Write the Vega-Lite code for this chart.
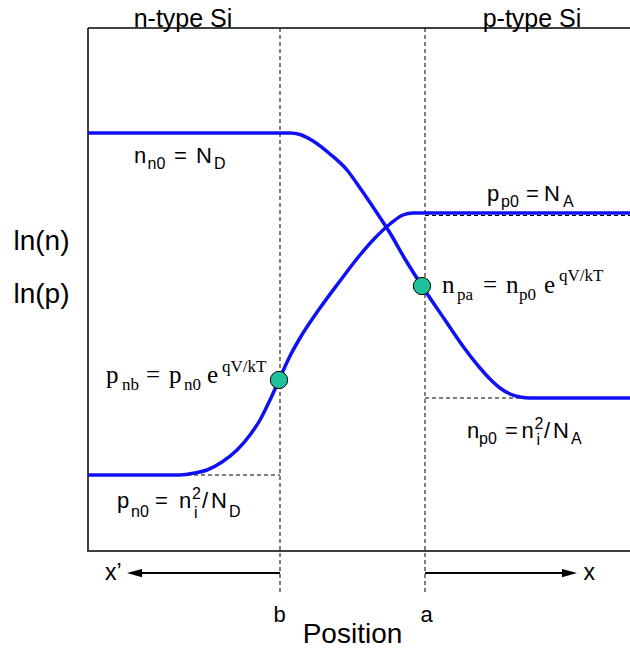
{
  "$schema": "https://vega.github.io/schema/vega-lite/v6.json",
  "width": 542,
  "height": 522,
  "padding": {"left": 88, "top": 28, "right": 0, "bottom": 100},
  "autosize": {"type": "none"},
  "background": "white",
  "config": {"view": {"stroke": null}},
  "datasets": {
    "curves": [
      {"carrier": "n", "pos": 0, "lnc": 41.7},
      {"carrier": "n", "pos": 20.2, "lnc": 41.7},
      {"carrier": "n", "pos": 21.2, "lnc": 41.55},
      {"carrier": "n", "pos": 22.5, "lnc": 40.9},
      {"carrier": "n", "pos": 24.2, "lnc": 39.6},
      {"carrier": "n", "pos": 25.9, "lnc": 38.0},
      {"carrier": "n", "pos": 27.2, "lnc": 36.2},
      {"carrier": "n", "pos": 28.7, "lnc": 34.0},
      {"carrier": "n", "pos": 30.2, "lnc": 31.7},
      {"carrier": "n", "pos": 31.7, "lnc": 29.1},
      {"carrier": "n", "pos": 33.4, "lnc": 26.4},
      {"carrier": "n", "pos": 35.7, "lnc": 23.0},
      {"carrier": "n", "pos": 37.7, "lnc": 20.1},
      {"carrier": "n", "pos": 39.2, "lnc": 18.2},
      {"carrier": "n", "pos": 40.2, "lnc": 17.1},
      {"carrier": "n", "pos": 41.2, "lnc": 16.2},
      {"carrier": "n", "pos": 42.2, "lnc": 15.6},
      {"carrier": "n", "pos": 43.2, "lnc": 15.3},
      {"carrier": "n", "pos": 44.2, "lnc": 15.2},
      {"carrier": "n", "pos": 54.2, "lnc": 15.2},
      {"carrier": "p", "pos": 0, "lnc": 7.5},
      {"carrier": "p", "pos": 9.2, "lnc": 7.5},
      {"carrier": "p", "pos": 10.7, "lnc": 7.7},
      {"carrier": "p", "pos": 11.9, "lnc": 8.0},
      {"carrier": "p", "pos": 13.4, "lnc": 8.8},
      {"carrier": "p", "pos": 14.9, "lnc": 10.0},
      {"carrier": "p", "pos": 16.2, "lnc": 11.5},
      {"carrier": "p", "pos": 17.2, "lnc": 13.0},
      {"carrier": "p", "pos": 18.2, "lnc": 15.0},
      {"carrier": "p", "pos": 19.1, "lnc": 17.0},
      {"carrier": "p", "pos": 20.2, "lnc": 19.4},
      {"carrier": "p", "pos": 21.2, "lnc": 21.2},
      {"carrier": "p", "pos": 23.2, "lnc": 24.2},
      {"carrier": "p", "pos": 25.2, "lnc": 26.9},
      {"carrier": "p", "pos": 27.2, "lnc": 29.5},
      {"carrier": "p", "pos": 28.7, "lnc": 31.2},
      {"carrier": "p", "pos": 30.2, "lnc": 32.6},
      {"carrier": "p", "pos": 31.5, "lnc": 33.5},
      {"carrier": "p", "pos": 32.5, "lnc": 33.7},
      {"carrier": "p", "pos": 54.2, "lnc": 33.7}
    ],
    "markers": [
      {"edge": "b", "pos": 19.1, "lnc": 17.0},
      {"edge": "a", "pos": 33.4, "lnc": 26.4}
    ],
    "segments": [
      {"kind": "frame", "x1": 0, "x2": 0, "y1": 0, "y2": 52.2},
      {"kind": "frame", "x1": 0, "x2": 54.2, "y1": 52.2, "y2": 52.2},
      {"kind": "frame", "x1": -0.1, "x2": 54.2, "y1": -0.1, "y2": -0.1},
      {"kind": "dash", "x1": 19.2, "x2": 19.2, "y1": 52.2, "y2": -4.2},
      {"kind": "dash", "x1": 33.7, "x2": 33.7, "y1": 52.2, "y2": -4.2},
      {"kind": "dash", "x1": 9.2, "x2": 19.2, "y1": 7.5, "y2": 7.5},
      {"kind": "dash", "x1": 33.7, "x2": 43.2, "y1": 15.2, "y2": 15.2},
      {"kind": "dash", "x1": 33.7, "x2": 54.2, "y1": 33.45, "y2": 33.45},
      {"kind": "arrow", "x1": 5.4, "x2": 19.2, "y1": -2.3, "y2": -2.3},
      {"kind": "arrow", "x1": 33.7, "x2": 47.4, "y1": -2.3, "y2": -2.3}
    ],
    "heads": [
      {"dir": "left", "pos": 4.65, "lnc": -2.3},
      {"dir": "right", "pos": 48.15, "lnc": -2.3}
    ],
    "labels": [
      {"role": "region", "text": "n-type Si", "pos": 9.5, "lnc": 52.3},
      {"role": "region", "text": "p-type Si", "pos": 44.4, "lnc": 52.3},
      {"role": "ylab", "text": "ln(n)", "pos": -4.65, "lnc": 30.0},
      {"role": "ylab", "text": "ln(p)", "pos": -4.65, "lnc": 24.7},
      {"role": "xlab", "text": "Position", "pos": 26.45, "lnc": -9.3},
      {"role": "edge", "text": "b", "pos": 19.15, "lnc": -7.2},
      {"role": "edge", "text": "a", "pos": 33.85, "lnc": -7.2},
      {"role": "dir", "text": "x’", "pos": 1.7, "lnc": -3.0},
      {"role": "dir", "text": "x", "pos": 49.55, "lnc": -3.0},

      {"role": "sans", "text": "n", "pos": 4.6, "lnc": 38.7},
      {"role": "sanssub", "text": "n0", "pos": 5.95, "lnc": 38.1},
      {"role": "sans", "text": "=", "pos": 8.6, "lnc": 38.7},
      {"role": "sans", "text": "N", "pos": 10.8, "lnc": 38.7},
      {"role": "sanssub", "text": "D", "pos": 12.6, "lnc": 38.1},

      {"role": "sans", "text": "p", "pos": 39.9, "lnc": 34.9},
      {"role": "sanssub", "text": "p0", "pos": 41.3, "lnc": 34.3},
      {"role": "sans", "text": "=", "pos": 43.8, "lnc": 34.9},
      {"role": "sans", "text": "N", "pos": 45.6, "lnc": 34.9},
      {"role": "sanssub", "text": "A", "pos": 47.5, "lnc": 34.3},

      {"role": "serif", "text": "n", "pos": 35.4, "lnc": 25.7},
      {"role": "serifsub", "text": "pa", "pos": 36.9, "lnc": 25.0},
      {"role": "serif", "text": "=", "pos": 39.5, "lnc": 25.7},
      {"role": "serif", "text": "n", "pos": 41.8, "lnc": 25.7},
      {"role": "serifsub", "text": "p0", "pos": 43.1, "lnc": 25.0},
      {"role": "serif", "text": "e", "pos": 45.6, "lnc": 25.7},
      {"role": "serifsup", "text": "qV/kT", "pos": 47.1, "lnc": 26.9},

      {"role": "serif", "text": "p", "pos": 1.8, "lnc": 16.7},
      {"role": "serifsub", "text": "nb", "pos": 3.4, "lnc": 16.0},
      {"role": "serif", "text": "=", "pos": 5.8, "lnc": 16.7},
      {"role": "serif", "text": "p", "pos": 8.1, "lnc": 16.7},
      {"role": "serifsub", "text": "n0", "pos": 9.6, "lnc": 16.0},
      {"role": "serif", "text": "e", "pos": 11.9, "lnc": 16.7},
      {"role": "serifsup", "text": "qV/kT", "pos": 13.4, "lnc": 17.8},

      {"role": "sans", "text": "p", "pos": 2.9, "lnc": 4.2},
      {"role": "sanssub", "text": "n0", "pos": 4.3, "lnc": 3.3},
      {"role": "sans", "text": "=", "pos": 6.7, "lnc": 4.2},
      {"role": "sans", "text": "n", "pos": 9.1, "lnc": 4.2},
      {"role": "sanssup", "text": "2", "pos": 10.4, "lnc": 5.15},
      {"role": "sanssub", "text": "i", "pos": 10.6, "lnc": 3.2},
      {"role": "sans", "text": "/", "pos": 11.4, "lnc": 4.2},
      {"role": "sans", "text": "N", "pos": 12.3, "lnc": 4.2},
      {"role": "sanssub", "text": "D", "pos": 14.1, "lnc": 3.3},

      {"role": "sans", "text": "n", "pos": 37.9, "lnc": 11.2},
      {"role": "sanssub", "text": "p0", "pos": 39.1, "lnc": 10.6},
      {"role": "sans", "text": "=", "pos": 41.7, "lnc": 11.2},
      {"role": "sans", "text": "n", "pos": 43.35, "lnc": 11.2},
      {"role": "sanssup", "text": "2", "pos": 44.65, "lnc": 12.15},
      {"role": "sanssub", "text": "i", "pos": 44.85, "lnc": 10.5},
      {"role": "sans", "text": "/", "pos": 45.6, "lnc": 11.2},
      {"role": "sans", "text": "N", "pos": 46.5, "lnc": 11.2},
      {"role": "sanssub", "text": "A", "pos": 48.3, "lnc": 10.6}
    ]
  },
  "layer": [
    {
      "data": {"name": "segments"},
      "transform": [{"filter": "datum.kind === 'frame'"}],
      "mark": {"type": "rule", "color": "black", "strokeWidth": 1.5},
      "encoding": {
        "x": {"field": "x1", "type": "quantitative", "scale": {"domain": [0, 54.2], "nice": false, "zero": false}, "axis": null},
        "x2": {"field": "x2"},
        "y": {"field": "y1", "type": "quantitative", "scale": {"domain": [0, 52.2], "nice": false, "zero": false}, "axis": null},
        "y2": {"field": "y2"}
      }
    },
    {
      "data": {"name": "segments"},
      "transform": [{"filter": "datum.kind === 'dash'"}],
      "mark": {"type": "rule", "color": "black", "strokeWidth": 1, "strokeDash": [4, 3]},
      "encoding": {
        "x": {"field": "x1", "type": "quantitative", "scale": {"domain": [0, 54.2], "nice": false, "zero": false}, "axis": null},
        "x2": {"field": "x2"},
        "y": {"field": "y1", "type": "quantitative", "scale": {"domain": [0, 52.2], "nice": false, "zero": false}, "axis": null},
        "y2": {"field": "y2"}
      }
    },
    {
      "data": {"name": "segments"},
      "transform": [{"filter": "datum.kind === 'arrow'"}],
      "mark": {"type": "rule", "color": "black", "strokeWidth": 2},
      "encoding": {
        "x": {"field": "x1", "type": "quantitative", "scale": {"domain": [0, 54.2], "nice": false, "zero": false}, "axis": null},
        "x2": {"field": "x2"},
        "y": {"field": "y1", "type": "quantitative", "scale": {"domain": [0, 52.2], "nice": false, "zero": false}, "axis": null},
        "y2": {"field": "y2"}
      }
    },
    {
      "data": {"name": "heads"},
      "transform": [{"filter": "datum.dir === 'left'"}],
      "mark": {"type": "point", "filled": true, "opacity": 1, "color": "black", "size": 225, "shape": "M -1 0 L 1 -0.55 L 1 0.55 Z"},
      "encoding": {
        "x": {"field": "pos", "type": "quantitative", "scale": {"domain": [0, 54.2], "nice": false, "zero": false}, "axis": null},
        "y": {"field": "lnc", "type": "quantitative", "scale": {"domain": [0, 52.2], "nice": false, "zero": false}, "axis": null}
      }
    },
    {
      "data": {"name": "heads"},
      "transform": [{"filter": "datum.dir === 'right'"}],
      "mark": {"type": "point", "filled": true, "opacity": 1, "color": "black", "size": 225, "shape": "M 1 0 L -1 -0.55 L -1 0.55 Z"},
      "encoding": {
        "x": {"field": "pos", "type": "quantitative", "scale": {"domain": [0, 54.2], "nice": false, "zero": false}, "axis": null},
        "y": {"field": "lnc", "type": "quantitative", "scale": {"domain": [0, 52.2], "nice": false, "zero": false}, "axis": null}
      }
    },
    {
      "data": {"name": "curves"},
      "mark": {"type": "line", "interpolate": "monotone", "color": "#1010f5", "strokeWidth": 3.5},
      "encoding": {
        "x": {"field": "pos", "type": "quantitative", "scale": {"domain": [0, 54.2], "nice": false, "zero": false}, "axis": null},
        "y": {"field": "lnc", "type": "quantitative", "scale": {"domain": [0, 52.2], "nice": false, "zero": false}, "axis": null},
        "detail": {"field": "carrier"}
      }
    },
    {
      "data": {"name": "markers"},
      "mark": {"type": "point", "shape": "circle", "filled": true, "opacity": 1, "fill": "#1fc29a", "stroke": "black", "strokeWidth": 1, "size": 300},
      "encoding": {
        "x": {"field": "pos", "type": "quantitative", "scale": {"domain": [0, 54.2], "nice": false, "zero": false}, "axis": null},
        "y": {"field": "lnc", "type": "quantitative", "scale": {"domain": [0, 52.2], "nice": false, "zero": false}, "axis": null}
      }
    },
    {
      "data": {"name": "labels"},
      "transform": [{"filter": "datum.role === 'region'"}],
      "mark": {"type": "text", "font": "Liberation Sans", "fontSize": 25, "align": "center", "baseline": "alphabetic", "color": "black"},
      "encoding": {
        "x": {"field": "pos", "type": "quantitative", "scale": {"domain": [0, 54.2], "nice": false, "zero": false}, "axis": null},
        "y": {"field": "lnc", "type": "quantitative", "scale": {"domain": [0, 52.2], "nice": false, "zero": false}, "axis": null},
        "text": {"field": "text"}
      }
    },
    {
      "data": {"name": "labels"},
      "transform": [{"filter": "datum.role === 'ylab'"}],
      "mark": {"type": "text", "font": "Liberation Sans", "fontSize": 28, "align": "center", "baseline": "alphabetic", "color": "black"},
      "encoding": {
        "x": {"field": "pos", "type": "quantitative", "scale": {"domain": [0, 54.2], "nice": false, "zero": false}, "axis": null},
        "y": {"field": "lnc", "type": "quantitative", "scale": {"domain": [0, 52.2], "nice": false, "zero": false}, "axis": null},
        "text": {"field": "text"}
      }
    },
    {
      "data": {"name": "labels"},
      "transform": [{"filter": "datum.role === 'xlab'"}],
      "mark": {"type": "text", "font": "Liberation Sans", "fontSize": 28, "align": "center", "baseline": "alphabetic", "color": "black"},
      "encoding": {
        "x": {"field": "pos", "type": "quantitative", "scale": {"domain": [0, 54.2], "nice": false, "zero": false}, "axis": null},
        "y": {"field": "lnc", "type": "quantitative", "scale": {"domain": [0, 52.2], "nice": false, "zero": false}, "axis": null},
        "text": {"field": "text"}
      }
    },
    {
      "data": {"name": "labels"},
      "transform": [{"filter": "datum.role === 'edge'"}],
      "mark": {"type": "text", "font": "Liberation Sans", "fontSize": 22, "align": "center", "baseline": "alphabetic", "color": "black"},
      "encoding": {
        "x": {"field": "pos", "type": "quantitative", "scale": {"domain": [0, 54.2], "nice": false, "zero": false}, "axis": null},
        "y": {"field": "lnc", "type": "quantitative", "scale": {"domain": [0, 52.2], "nice": false, "zero": false}, "axis": null},
        "text": {"field": "text"}
      }
    },
    {
      "data": {"name": "labels"},
      "transform": [{"filter": "datum.role === 'dir'"}],
      "mark": {"type": "text", "font": "Liberation Sans", "fontSize": 23, "align": "left", "baseline": "alphabetic", "color": "black"},
      "encoding": {
        "x": {"field": "pos", "type": "quantitative", "scale": {"domain": [0, 54.2], "nice": false, "zero": false}, "axis": null},
        "y": {"field": "lnc", "type": "quantitative", "scale": {"domain": [0, 52.2], "nice": false, "zero": false}, "axis": null},
        "text": {"field": "text"}
      }
    },
    {
      "data": {"name": "labels"},
      "transform": [{"filter": "datum.role === 'sans'"}],
      "mark": {"type": "text", "font": "Liberation Sans", "fontSize": 22, "align": "left", "baseline": "alphabetic", "color": "black"},
      "encoding": {
        "x": {"field": "pos", "type": "quantitative", "scale": {"domain": [0, 54.2], "nice": false, "zero": false}, "axis": null},
        "y": {"field": "lnc", "type": "quantitative", "scale": {"domain": [0, 52.2], "nice": false, "zero": false}, "axis": null},
        "text": {"field": "text"}
      }
    },
    {
      "data": {"name": "labels"},
      "transform": [{"filter": "datum.role === 'sanssub' || datum.role === 'sanssup'"}],
      "mark": {"type": "text", "font": "Liberation Sans", "fontSize": 16, "align": "left", "baseline": "alphabetic", "color": "black"},
      "encoding": {
        "x": {"field": "pos", "type": "quantitative", "scale": {"domain": [0, 54.2], "nice": false, "zero": false}, "axis": null},
        "y": {"field": "lnc", "type": "quantitative", "scale": {"domain": [0, 52.2], "nice": false, "zero": false}, "axis": null},
        "text": {"field": "text"}
      }
    },
    {
      "data": {"name": "labels"},
      "transform": [{"filter": "datum.role === 'serif'"}],
      "mark": {"type": "text", "font": "Liberation Serif", "fontSize": 25, "align": "left", "baseline": "alphabetic", "color": "black"},
      "encoding": {
        "x": {"field": "pos", "type": "quantitative", "scale": {"domain": [0, 54.2], "nice": false, "zero": false}, "axis": null},
        "y": {"field": "lnc", "type": "quantitative", "scale": {"domain": [0, 52.2], "nice": false, "zero": false}, "axis": null},
        "text": {"field": "text"}
      }
    },
    {
      "data": {"name": "labels"},
      "transform": [{"filter": "datum.role === 'serifsub' || datum.role === 'serifsup'"}],
      "mark": {"type": "text", "font": "Liberation Serif", "fontSize": 17, "align": "left", "baseline": "alphabetic", "color": "black"},
      "encoding": {
        "x": {"field": "pos", "type": "quantitative", "scale": {"domain": [0, 54.2], "nice": false, "zero": false}, "axis": null},
        "y": {"field": "lnc", "type": "quantitative", "scale": {"domain": [0, 52.2], "nice": false, "zero": false}, "axis": null},
        "text": {"field": "text"}
      }
    }
  ]
}
